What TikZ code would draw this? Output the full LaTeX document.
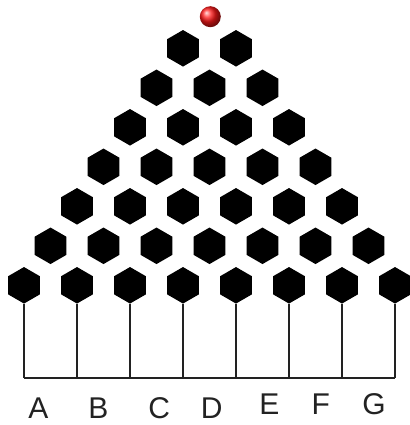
\documentclass[tikz,border=0pt]{standalone}
\usepackage{fontspec}
\setmainfont{Liberation Sans}
\usetikzlibrary{shapes.geometric}
\definecolor{linegray}{HTML}{222222}
\tikzset{
  peg/.style={regular polygon, regular polygon sides=6, shape border rotate=30,
    minimum size=36.5pt, inner sep=0pt, fill=black, draw=none},
  wire/.style={draw=linegray, line width=1.8pt},
  binlabel/.style={anchor=base, inner sep=0pt, text=linegray,
    font=\fontsize{30}{30}\selectfont},
  marble/.style={circle, minimum size=21pt, inner sep=0pt, ball color=red!90!white, draw=none}
}
\begin{document}
\begin{tikzpicture}[x=1pt,y=-1pt]
\useasboundingbox (0,0) rectangle (409,425);
% pegs
\foreach \r in {1,...,7}{
  \foreach \k in {0,...,\r}{
    \node[peg] (h\r-\k) at ({209.5+(\k-\r/2)*53},{48.3+(\r-1)*39.5}) {};
  }
}
% marble
\node[marble] (ball) at (210.3,16.7) {};
% bins
\foreach \k in {0,...,7}{
  \coordinate (b\k) at (h7-\k.south |- 0,378);
  \draw[wire] (h7-\k.south) -- (b\k);
}
\draw[wire] (b0) -- (b7);
% labels
\node[binlabel] (lA) at (38.3,418.5) {A};
\node[binlabel] (lB) at (98.3,418.5) {B};
\node[binlabel] (lC) at (159.3,418.5) {C};
\node[binlabel] (lD) at (211.7,418.5) {D};
\node[binlabel] (lE) at (269.3,414.5) {E};
\node[binlabel] (lF) at (320.7,414.5) {F};
\node[binlabel] (lG) at (374,414.5) {G};
\end{tikzpicture}
\end{document}
